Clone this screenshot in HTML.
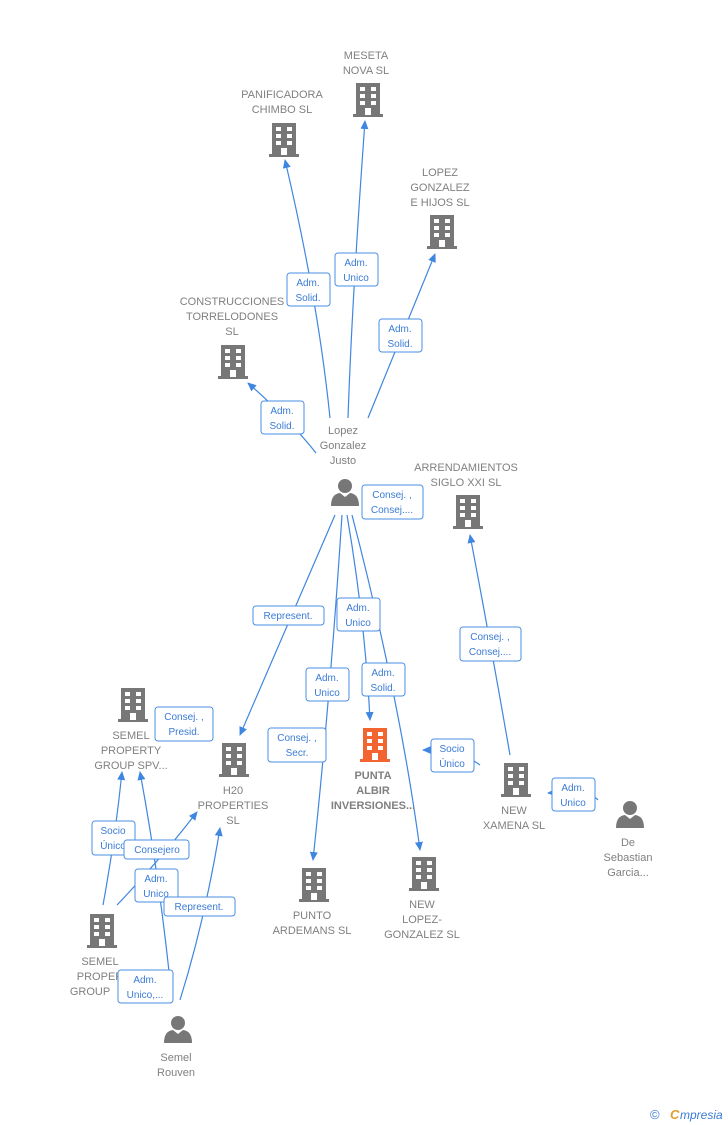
<!DOCTYPE html>
<html><head><meta charset="utf-8"><style>
body{margin:0;background:#fff;}
svg{display:block;font-family:"Liberation Sans",sans-serif;}
.t{fill:#808080;font-size:11px;text-anchor:middle;}
.b{fill:#808080;font-size:11px;font-weight:bold;text-anchor:middle;}
.l{fill:#3a7bd5;font-size:10px;text-anchor:middle;}
.e{stroke:#3f86e0;stroke-width:1.2;fill:none;}
.r{fill:#fff;stroke:#4a8fe3;stroke-width:1;}
</style></head><body>
<svg width="728" height="1125" viewBox="0 0 728 1125">
<defs>
<g id="bld"><rect x="-12" y="0" width="24" height="32" fill="currentColor"/><rect x="-15" y="31" width="30" height="3" fill="currentColor"/>
<g fill="#fff"><rect x="-8" y="4" width="5" height="4"/><rect x="3" y="4" width="5" height="4"/><rect x="-8" y="11" width="5" height="4"/><rect x="3" y="11" width="5" height="4"/><rect x="-8" y="18" width="5" height="4"/><rect x="3" y="18" width="5" height="4"/><rect x="-3" y="25" width="6" height="7"/></g></g>
<g id="per" fill="#777"><circle cx="0" cy="8" r="7"/><path d="M-14 28 Q-14 16 -5 15 L0 19 L5 15 Q14 16 14 28 Z"/></g>
<marker id="a" markerWidth="10" markerHeight="10" refX="8" refY="4" orient="auto" markerUnits="userSpaceOnUse"><path d="M0 0 L9 4 L0 8 Z" fill="#3f86e0"/></marker>
</defs>
<g class="e" marker-end="url(#a)">
<path d="M330 418 Q318 300 285 160"/>
<path d="M348 418 Q352 300 365 121"/>
<path d="M368 418 Q400 340 435 254"/>
<path d="M316 453 Q290 420 248 383"/>
<path d="M335 515 Q290 620 240 735"/>
<path d="M342 515 Q330 700 313 860"/>
<path d="M347 515 Q365 620 370 720"/>
<path d="M352 515 Q400 700 420 850"/>
<path d="M510 755 Q490 640 470 535"/>
<path d="M480 765 Q460 750 423 750"/>
<path d="M598 800 Q590 790 548 793"/>
<path d="M103 905 Q115 840 122 772"/>
<path d="M117 905 Q160 860 197 812"/>
<path d="M172 1000 Q160 880 140 772"/>
<path d="M180 1000 Q205 920 220 828"/>
</g>
<use href="#bld" x="368" y="83" color="#777"/>
<use href="#bld" x="284" y="123" color="#777"/>
<use href="#bld" x="442" y="215" color="#777"/>
<use href="#bld" x="233" y="345" color="#777"/>
<use href="#bld" x="468" y="495" color="#777"/>
<use href="#bld" x="133" y="688" color="#777"/>
<use href="#bld" x="234" y="743" color="#777"/>
<use href="#bld" x="375" y="728" color="#f26430"/>
<use href="#bld" x="516" y="763" color="#777"/>
<use href="#bld" x="314" y="868" color="#777"/>
<use href="#bld" x="424" y="857" color="#777"/>
<use href="#bld" x="102" y="914" color="#777"/>
<use href="#per" x="345" y="478"/>
<use href="#per" x="630" y="800"/>
<use href="#per" x="178" y="1015"/>
<text class="t" x="366" y="59">MESETA</text><text class="t" x="366" y="74">NOVA SL</text>
<text class="t" x="282" y="98">PANIFICADORA</text><text class="t" x="282" y="113">CHIMBO  SL</text>
<text class="t" x="440" y="176">LOPEZ</text><text class="t" x="440" y="191">GONZALEZ</text><text class="t" x="440" y="206">E HIJOS  SL</text>
<text class="t" x="232" y="305">CONSTRUCCIONES</text><text class="t" x="232" y="320">TORRELODONES</text><text class="t" x="232" y="335">SL</text>
<text class="t" x="343" y="434">Lopez</text><text class="t" x="343" y="449">Gonzalez</text><text class="t" x="343" y="464">Justo</text>
<text class="t" x="466" y="471">ARRENDAMIENTOS</text><text class="t" x="466" y="486">SIGLO XXI SL</text>
<text class="t" x="131" y="739">SEMEL</text><text class="t" x="131" y="754">PROPERTY</text><text class="t" x="131" y="769">GROUP SPV...</text>
<text class="t" x="233" y="794">H20</text><text class="t" x="233" y="809">PROPERTIES</text><text class="t" x="233" y="824">SL</text>
<text class="b" x="373" y="779">PUNTA</text><text class="b" x="373" y="794">ALBIR</text><text class="b" x="373" y="809">INVERSIONES...</text>
<text class="t" x="514" y="814">NEW</text><text class="t" x="514" y="829">XAMENA SL</text>
<text class="t" x="628" y="846">De</text><text class="t" x="628" y="861">Sebastian</text><text class="t" x="628" y="876">Garcia...</text>
<text class="t" x="312" y="919">PUNTO</text><text class="t" x="312" y="934">ARDEMANS SL</text>
<text class="t" x="422" y="908">NEW</text><text class="t" x="422" y="923">LOPEZ-</text><text class="t" x="422" y="938">GONZALEZ SL</text>
<text class="t" x="100" y="965">SEMEL</text><text class="t" x="100" y="980">PROPER</text><text class="t" x="90" y="995">GROUP</text>
<text class="t" x="176" y="1061">Semel</text><text class="t" x="176" y="1076">Rouven</text>
<g>
<rect class="r" x="287" y="273" width="43" height="33" rx="3"/><text class="l" x="308" y="286">Adm.</text><text class="l" x="308" y="301">Solid.</text>
<rect class="r" x="335" y="253" width="43" height="33" rx="3"/><text class="l" x="356" y="266">Adm.</text><text class="l" x="356" y="281">Unico</text>
<rect class="r" x="379" y="319" width="43" height="33" rx="3"/><text class="l" x="400" y="332">Adm.</text><text class="l" x="400" y="347">Solid.</text>
<rect class="r" x="261" y="401" width="43" height="33" rx="3"/><text class="l" x="282" y="414">Adm.</text><text class="l" x="282" y="429">Solid.</text>
<rect class="r" x="362" y="485" width="61" height="34" rx="3"/><text class="l" x="392" y="498">Consej. ,</text><text class="l" x="392" y="513">Consej....</text>
<rect class="r" x="253" y="606" width="71" height="19" rx="3"/><text class="l" x="288" y="619">Represent.</text>
<rect class="r" x="337" y="598" width="43" height="33" rx="3"/><text class="l" x="358" y="611">Adm.</text><text class="l" x="358" y="626">Unico</text>
<rect class="r" x="460" y="627" width="61" height="34" rx="3"/><text class="l" x="490" y="640">Consej. ,</text><text class="l" x="490" y="655">Consej....</text>
<rect class="r" x="306" y="668" width="43" height="33" rx="3"/><text class="l" x="327" y="681">Adm.</text><text class="l" x="327" y="696">Unico</text>
<rect class="r" x="362" y="663" width="43" height="33" rx="3"/><text class="l" x="383" y="676">Adm.</text><text class="l" x="383" y="691">Solid.</text>
<rect class="r" x="155" y="707" width="58" height="34" rx="3"/><text class="l" x="184" y="720">Consej. ,</text><text class="l" x="184" y="735">Presid.</text>
<rect class="r" x="268" y="728" width="58" height="34" rx="3"/><text class="l" x="297" y="741">Consej. ,</text><text class="l" x="297" y="756">Secr.</text>
<rect class="r" x="431" y="739" width="43" height="33" rx="3"/><text class="l" x="452" y="752">Socio</text><text class="l" x="452" y="767">Único</text>
<rect class="r" x="552" y="778" width="43" height="33" rx="3"/><text class="l" x="573" y="791">Adm.</text><text class="l" x="573" y="806">Unico</text>
<rect class="r" x="92" y="821" width="43" height="34" rx="3"/><text class="l" x="113" y="834">Socio</text><text class="l" x="113" y="849">Único</text>
<rect class="r" x="124" y="840" width="65" height="19" rx="3"/><text class="l" x="157" y="853">Consejero</text>
<rect class="r" x="135" y="869" width="43" height="33" rx="3"/><text class="l" x="156" y="882">Adm.</text><text class="l" x="156" y="897">Unico</text>
<rect class="r" x="164" y="897" width="71" height="19" rx="3"/><text class="l" x="199" y="910">Represent.</text>
<rect class="r" x="118" y="970" width="55" height="33" rx="3"/><text class="l" x="145" y="983">Adm.</text><text class="l" x="145" y="998">Unico,...</text>
</g>
<text x="650" y="1119" fill="#3a7bd5" font-size="13">©</text>
<text x="670" y="1119" fill="#e0a030" font-size="13" font-style="italic" font-weight="bold">C</text>
<text x="680" y="1119" fill="#3a7bd5" font-size="12" font-style="italic">mpresia</text>
</svg>
</body></html>
